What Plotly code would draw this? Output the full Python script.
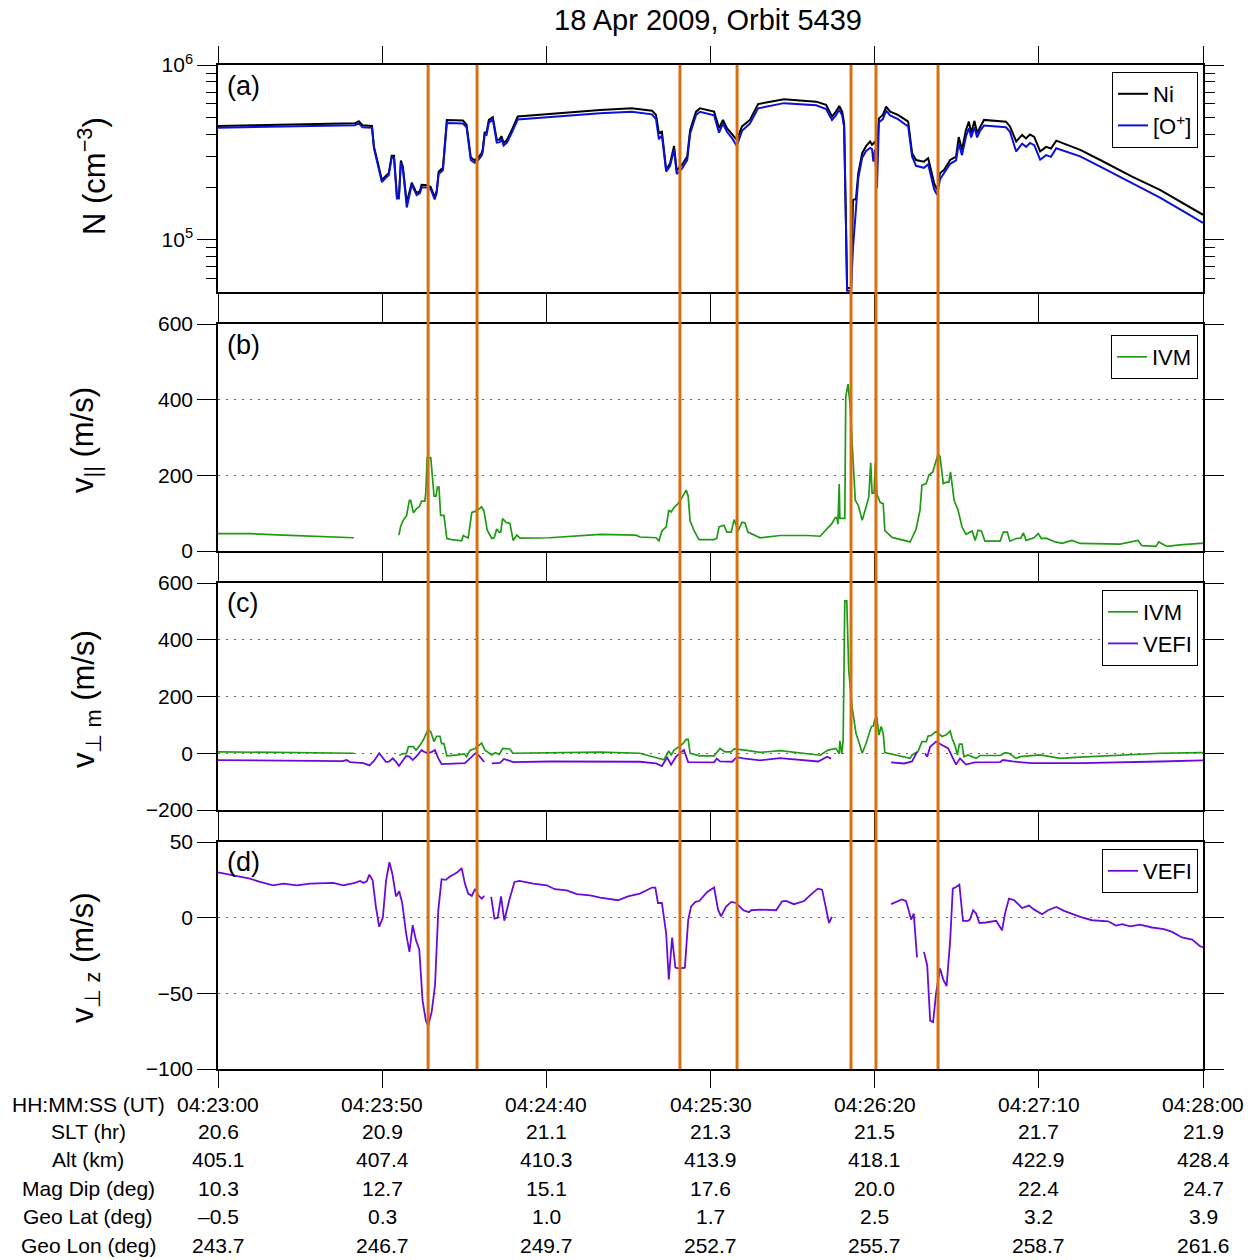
import plotly.graph_objects as go

# ---------------- data (t = seconds after 04:23:00 UT) ----------------
dens_t = [0, 20, 41.7, 42.9, 44, 46.9, 47.5, 48.7, 49.9, 51.4, 52, 52.9, 53.6, 54.5, 55.1, 55.7, 56.3,
          57.5, 59, 60.5, 61.5, 62, 63.9, 64.8, 66, 66.6, 67.2, 68.5, 69.7, 74.6, 75.7, 77, 78.2, 79.1,
          80.3, 80.6, 81.2, 81.8, 82.5, 83.7, 84.9, 85.8, 86.3, 87, 88, 89.5, 91.3, 116.4, 126, 132.2,
          133.4, 134.3, 135.2, 136.5, 137.7, 138.9, 139.7, 141.3, 142.9, 143.8, 145.6, 146.8, 151.1,
          152.6, 153.8, 155, 156.6, 158, 159.6, 162, 164.5, 172.4, 182.2, 185.2, 187, 188.2, 189.2,
          190.1, 190.7, 191.3, 191.6, 192.8, 193.4, 194.3, 195, 196.2, 197.4, 198.6, 199.2, 199.6,
          200.1, 200.7, 201.3, 202.5, 203.5, 204.7, 207.1, 210.2, 210.8, 211.4, 212.6, 215, 216.3,
          218.1, 219, 219.9, 221.1, 223, 224.8, 225.6, 226.6, 227.8, 228.7, 229.4, 230.4, 231.2,
          232.1, 233.3, 240, 241.2, 243.1, 244.9, 246.1, 247.3, 248.6, 250.4, 252.2, 253.7, 255.3,
          262.6, 268.7, 278.4, 286.9, 295.5, 299.1, 300]
ni = [448e3, 455e3, 464e3, 477e3, 452e3, 448e3, 341e3, 275e3, 220e3, 235e3, 240e3, 302e3, 302e3,
      177e3, 177e3, 284e3, 262e3, 163e3, 212e3, 185e3, 190e3, 206e3, 205e3, 200e3, 175e3, 190e3,
      245e3, 258e3, 485e3, 482e3, 455e3, 295e3, 285e3, 293e3, 313e3, 327e3, 410e3, 412e3, 485e3,
      503e3, 373e3, 375e3, 392e3, 357e3, 373e3, 425e3, 507e3, 553e3, 565e3, 548e3, 518e3, 408e3,
      415e3, 251e3, 274e3, 344e3, 250e3, 268e3, 299e3, 425e3, 541e3, 565e3, 541e3, 435e3, 485e3,
      435e3, 398e3, 373e3, 445e3, 485e3, 598e3, 637e3, 617e3, 591e3, 507e3, 541e3, 583e3, 541e3,
      464e3, 119e3, 53e3, 53e3, 169e3, 171e3, 240e3, 313e3, 344e3, 365e3, 350e3, 355e3, 365e3,
      330e3, 495e3, 518e3, 578e3, 541e3, 518e3, 474e3, 389e3, 313e3, 286e3, 280e3, 293e3, 211e3,
      193e3, 240e3, 251e3, 286e3, 299e3, 387e3, 327e3, 425e3, 474e3, 408e3, 479e3, 408e3, 440e3,
      485e3, 474e3, 445e3, 365e3, 398e3, 380e3, 400e3, 388e3, 320e3, 340e3, 333e3, 369e3, 327e3,
      286e3, 230e3, 193e3, 155e3, 141e3, 139e3]
o_plus = [438e3, 444e3, 452e3, 463e3, 440e3, 437e3, 333e3, 268e3, 214e3, 229e3, 234e3, 295e3, 295e3,
          172e3, 172e3, 277e3, 255e3, 153e3, 207e3, 180e3, 185e3, 199e3, 199e3, 194e3, 170e3, 185e3,
          238e3, 250e3, 466e3, 462e3, 440e3, 285e3, 276e3, 283e3, 303e3, 316e3, 396e3, 398e3, 468e3,
          488e3, 360e3, 362e3, 378e3, 346e3, 360e3, 410e3, 488e3, 530e3, 540e3, 522e3, 490e3, 376e3,
          395e3, 245e3, 265e3, 330e3, 238e3, 255e3, 285e3, 405e3, 518e3, 540e3, 515e3, 410e3, 462e3,
          415e3, 380e3, 344e3, 420e3, 462e3, 565e3, 605e3, 588e3, 560e3, 485e3, 515e3, 555e3, 515e3,
          440e3, 112e3, 51e3, 51e3, 90e3, 150e3, 225e3, 295e3, 322e3, 335e3, 330e3, 280e3, 330e3,
          197e3, 470e3, 490e3, 548e3, 515e3, 490e3, 445e3, 360e3, 300e3, 265e3, 258e3, 270e3, 195e3,
          181e3, 222e3, 240e3, 272e3, 285e3, 355e3, 305e3, 390e3, 435e3, 385e3, 440e3, 385e3, 420e3,
          450e3, 440e3, 415e3, 320e3, 355e3, 340e3, 358e3, 348e3, 287e3, 305e3, 298e3, 334e3, 300e3,
          262e3, 210e3, 174e3, 140e3, 127e3, 125e3]

vpar_t = [0, 9.7, 19.9, 30, 41.4, 48, 55.1, 55.6, 56.4, 57.4, 58.3, 58.7, 59.5, 60.5, 61.3, 62, 63, 63.3,
          63.7, 64.8, 65.8, 66.4, 66.8, 67.3, 67.8, 68.8, 69.7, 71.2, 74.2, 74.7, 75.5, 76.2, 77.3, 78.8,
          80.3, 81, 82, 83.4, 84.1, 84.9, 85.6, 86.1, 86.7, 87.7, 88.9, 89.9, 91, 92, 101, 116.4, 127.3,
          128.5, 133.4, 134.3, 135.2, 136.5, 137.3, 138, 138.9, 140.1, 141.3, 142.6, 143.2, 143.8, 145,
          146.5, 151.1, 151.9, 152.6, 154.1, 155, 156.3, 157.2, 158.4, 159.6, 160.5, 161.4, 165.1, 171.2,
          179.7, 183.4, 185.2, 187, 188, 188.5, 188.8, 189.2, 189.4, 190.1, 190.9, 191.2, 191.9, 192.5,
          193.4, 194.1, 195, 196.2, 197.4, 198.2, 198.8, 199.2, 199.8, 200.2, 200.7, 201.7, 202.6, 203.1,
          205.3, 207.7, 210.8, 211.4, 212.6, 213.8, 214.4, 215.7, 216.5, 217.7, 218.4, 219.3, 219.9,
          220.9, 221.8, 222.6, 223.1, 223.6, 224.2, 225.4, 226.6, 227.8, 229.7, 230.6, 231.5, 232.5,
          233.6, 238.2, 239.2, 240.4, 241.2, 243.1, 244.5, 245.3, 246.1, 248.5, 249.8, 250.8, 252.2, 255,
          257.1, 258.5, 260.1, 262.6, 274.7, 280.2, 281.4, 285.7, 286.5, 289, 293, 299.1, 300]
vpar_ivm = [46, 46, 42, 39, 35, None, 42, 64, 81, 93, 134, 134, 101, 112, 117, 132, 132, 156, 247, 247,
            145, 145, 169, 169, 94, 94, 33, 30, 27, 41, 37, 35, 102, 106, 117, 106, 55, 33, 35, 58, 50,
            50, 86, 76, 73, 28, 42, 34, 35, 44, 42, 37, 35, 27, 53, 64, 108, 103, 115, 125, 141, 161,
            145, 79, 54, 30, 30, 33, 64, 68, 50, 50, 83, 53, 76, 74, 50, 35, 41, 41, 39, 55, 73, 88, 88,
            71, 177, 86, 86, 86, 408, 441, 387, 222, 134, 121, 81, 117, 143, 233, 153, 153, 233, 150,
            128, 125, 54, 36, 30, 24, 35, 57, 108, 174, 178, 200, 209, 231, 256, 250, 178, 182, 182,
            209, 178, 134, 108, 64, 44, 53, 28, 55, 53, 26, 26, 50, 50, 26, 33, 34, 48, 28, 35, 46, 33,
            34, 24, 20, 24, 28, 20, 18, 28, 14, 12, 24, 12, 16, 20, 20]

vm_ivm_t = [0, 20, 41.4, 48, 55.2, 56.4, 57.4, 58, 59.5, 60.3, 61.3, 62.5, 64, 64.8, 65.8, 66.6, 67.6,
            68.1, 68.8, 69.7, 73.2, 75, 75.7, 76.8, 78.3, 79.3, 80.3, 81.3, 83.4, 84.4, 85.7, 86.7, 88.9,
            89.8, 116.4, 128.5, 134.6, 135.8, 137.3, 138, 138.9, 140.1, 141.3, 142.6, 143.2, 143.8,
            146.8, 151.1, 152.9, 154.4, 156.3, 157.2, 159, 160.5, 165.1, 171.2, 183.4, 185.8, 188.2,
            189.2, 189.4, 190, 190.4, 190.9, 191.5, 192.1, 193.1, 194.3, 195.3, 196.2, 197.4, 199,
            199.6, 200, 200.7, 201.3, 202, 202.6, 203.1, 206.5, 210.8, 211.4, 213.2, 214.4, 215.7,
            216.3, 217.1, 218.7, 219.3, 220.5, 221.8, 223, 223.6, 224.5, 225.2, 225.8, 226.6, 227.2,
            228.4, 230.9, 232.1, 238.2, 239.7, 240.9, 243.1, 244.3, 250.4, 256.5, 262.6, 274.7, 286.9,
            299.1, 300]
vm_ivm = [5, 3, 0, None, -7, -1, -1, 23, 23, 11, 25, 46, 84, 76, 41, 60, 60, 34, 34, -9, -6, -2, -12,
          11, 17, 28, 36, 11, -6, 2, -4, 17, 15, 0, 4, 0, -18, -23, 8, -6, 11, 21, 30, 49, 49, 0, -9,
          -9, 17, 5, 5, 15, 14, 11, 3, 9, -7, 11, 17, -2, 44, -2, 46, 537, 537, 293, 164, 70, 35, 0,
          35, 94, 96, 117, 123, 64, 94, 70, 2, -8, -18, -6, 6, 41, 41, 61, 62, 76, 70, 59, 65, 78, 52,
          26, -6, 32, 32, -12, -6, -18, -8, -8, 2, 0, -18, -12, -6, -18, -14, -7, 0, 2, 2]

vm_vefi_t = [0, 25, 37.9, 39.2, 40.2, 44.3, 46.1, 47.5, 49.1, 51.2, 52.2, 53.2, 54.2, 55.1, 57.3, 58.3,
             59.3, 60.5, 62, 62.8, 64, 65.1, 66.1, 67.1, 68.1, 75.2, 76.8, 78.6, 79.6, 81.1, 82.2, 83.4,
             85.9, 87.1, 88.3, 89.9, 101, 116.4, 128.5, 133.4, 135.2, 136.8, 138, 139.5, 141.9, 143.2,
             151.1, 151.9, 152.9, 156.6, 158, 160, 165.1, 171.2, 177.3, 182.8, 185.5, 186.7, 196, 205,
             209, 211.4, 212.9, 214, 215.3, 216, 216.9, 218.7, 220.5, 222.4, 223.6, 224.8, 226, 227.8,
             230.5, 238.2, 239.1, 242, 247.9, 262.6, 286.9, 299.1, 300]
vm_vefi = [-24, -28, -28, -24, -31, -35, -43, -27, 0, -31, -29, -18, -29, -45, -10, -12, -24, -10, 11,
           5, 0, 5, 11, -18, -38, -35, -18, 2, -10, -31, None, -36, -34, -20, -24, -31, -29, -29, -30,
           -36, -45, -15, -40, -12, 11, -31, -32, -19, -29, -30, -14, -18, -25, -17, -22, -29, -12,
           -19, None, -32, -36, -29, 5, None, 0, -12, 23, 41, 29, 17, -12, -40, -18, -40, -32, -31,
           -24, -29, -35, -35, -29, -25, -25]

vz_t = [0, 6.7, 9.7, 12.8, 16.8, 19.9, 24, 28, 35.1, 38.2, 41.7, 43.3, 44.3, 45.3, 46.1, 47.1, 48.1,
        49.1, 50.2, 51.2, 52.2, 53.1, 54.2, 55.2, 56.1, 57.3, 58.3, 59.3, 60.3, 61.3, 62.3, 63.3, 64,
        65.1, 66.1, 67.1, 68.1, 69.4, 70.5, 71.9, 72.9, 74.2, 75.2, 76.2, 77.3, 78.3, 79.3, 80.3, 81.1,
        82.2, 83.2, 84.2, 85.2, 86.2, 87.2, 88.7, 90.3, 91.8, 96, 100.1, 102.6, 106.2, 109.3, 113.3,
        116.4, 121.8, 124.9, 128.5, 132.2, 133.2, 134, 135.2, 136.5, 137.3, 138.3, 139.3, 140.5,
        142.2, 143.2, 144.1, 145.4, 146.6, 149, 151.1, 152.3, 153.2, 154.7, 156.3, 157.8, 160, 161.7,
        162.4, 165.1, 170, 171.8, 173, 175.4, 178.5, 180.9, 182.7, 184, 185.2, 186.1, 187, 196, 205,
        206.5, 208.3, 209.5, 210.1, 211.1, 211.9, 212.9, 214, 215, 216, 216.9, 217.8, 218.7, 219.9,
        220.9, 221.9, 223, 223.8, 224.8, 225.8, 226.9, 228.4, 229, 230, 230.9, 231.9, 233.9, 237,
        238.8, 239.7, 240.9, 242.5, 244.9, 247, 248.6, 251, 252.8, 255.3, 257.7, 262.6, 266.2, 271.1,
        273.5, 275.4, 277.8, 280.8, 284.5, 288.1, 290.6, 293.6, 296.7, 299.1, 300]
vz_vefi = [30, 27, 25.8, 23.6, 21.4, 22.5, 21.4, 22.5, 23, 21.4, 23, 24.3, 23, 24, 28.4, 24.7, 7, -6, 0,
           24.7, 36.6, 29, 14, 17.4, 9.7, -10.5, -22.6, -5, -15, -21, -54.5, -68, -71.7, -62, -44.6, 5,
           25.4, 25, 27, 28.7, 30, 32.8, 22.5, 15.9, 14.4, 19, 14.8, 12.6, 14.4, None, 13.7, -0.6, 0,
           14, -2, 11.5, 23.6, 24.3, 22.5, 21.4, 18.8, 18, 15.5, 14.8, 13.3, 11.5, 14.1, 15.9, 19.9,
           19.9, 9.7, 9.7, -10.5, -40.9, -13.1, -33, -33.6, -33, -1.7, 7.5, 10.4, 11, 17, 19.9, 5.3,
           0.9, 7.1, 10.4, 9.7, 4.9, 3.6, 4.9, 5.3, 4.9, 10.8, 11, 8.9, 11, 15.9, 19.2, 18.5, 4.9,
           -3.5, 0.5, None, 8.9, 10.4, 12, 11, 7.1, -1.3, 2.7, -26.3, None, -22.6, -31.4, -68, -69,
           -50, -33.6, -40.9, -45.3, -15, 19.2, 20.3, 21.8, -2.1, -2.1, -1.3, 4.9, 2.7, -3.5, -3.2,
           -2.1, -8.3, 2.7, 12.6, 11.5, 6.4, 8, 5.3, 2.3, 4.9, 7.1, 4.5, 0.5, -1.7, -2.4, -5.2, -4.3,
           -5.7, -4.6, -6.5, -7.6, -9.4, -13.1, -14.5, -18.9, -19.5]

event_t = [64.0, 78.9, 140.7, 158.1, 192.8, 200.4, 219.3]

tick_t = [0, 50, 100, 150, 200, 250, 300]
row_labels = ["HH:MM:SS (UT)", "SLT (hr)", "Alt (km)", "Mag Dip (deg)", "Geo Lat (deg)", "Geo Lon (deg)"]
row_ut = ["04:23:00", "04:23:50", "04:24:40", "04:25:30", "04:26:20", "04:27:10", "04:28:00"]
row_slt = ["20.6", "20.9", "21.1", "21.3", "21.5", "21.7", "21.9"]
row_alt = ["405.1", "407.4", "410.3", "413.9", "418.1", "422.9", "428.4"]
row_dip = ["10.3", "12.7", "15.1", "17.6", "20.0", "22.4", "24.7"]
row_lat = ["\u20130.5", "0.3", "1.0", "1.7", "2.5", "3.2", "3.9"]
row_lon = ["243.7", "246.7", "249.7", "252.7", "255.7", "258.7", "261.6"]

# ---------------- styling / layout geometry ----------------
FONT = "Liberation Sans, Arial, sans-serif"
W, H = 1257, 1260
L, R, T, B = 218, 1203, 65, 1069
panels_px = [(65, 292), (324, 551), (583, 810), (842, 1069)]

def py(ypix):
    return (B - ypix) / (B - T)

def px(xpix):
    return (xpix - L) / (R - L)

C_NI = "#000000"
C_OP = "#0b12d2"
C_IVM = "#1f9a14"
C_VEFI = "#6a0cd8"
C_EVT = "#d9700f"

fig = go.Figure()
fig.add_trace(go.Scatter(x=dens_t, y=ni, mode="lines", name="Ni", line=dict(color=C_NI, width=2),
                         xaxis="x", yaxis="y", legend="legend"))
fig.add_trace(go.Scatter(x=dens_t, y=o_plus, mode="lines", name="[O<sup>+</sup>]",
                         line=dict(color=C_OP, width=2), xaxis="x", yaxis="y", legend="legend"))
fig.add_trace(go.Scatter(x=vpar_t, y=vpar_ivm, mode="lines", name="IVM", line=dict(color=C_IVM, width=1.7),
                         xaxis="x2", yaxis="y2", legend="legend2"))
fig.add_trace(go.Scatter(x=vm_ivm_t, y=vm_ivm, mode="lines", name="IVM", line=dict(color=C_IVM, width=1.7),
                         xaxis="x3", yaxis="y3", legend="legend3"))
fig.add_trace(go.Scatter(x=vm_vefi_t, y=vm_vefi, mode="lines", name="VEFI", line=dict(color=C_VEFI, width=1.8),
                         xaxis="x3", yaxis="y3", legend="legend3"))
fig.add_trace(go.Scatter(x=vz_t, y=vz_vefi, mode="lines", name="VEFI", line=dict(color=C_VEFI, width=1.8),
                         xaxis="x4", yaxis="y4", legend="legend4"))

axis_common = dict(showline=True, linecolor="black", linewidth=1.5, mirror="allticks", ticks="outside",
                   tickcolor="black", tickwidth=1.2, zeroline=False,
                   tickfont=dict(family=FONT, size=21, color="black"))

layout_axes = {}
for i, (top, bot) in enumerate(panels_px):
    sfx = "" if i == 0 else str(i + 1)
    layout_axes["xaxis" + sfx] = dict(axis_common, domain=[0, 1], anchor="y" + sfx, range=[0, 300],
                                      tickvals=tick_t, showticklabels=False, ticklen=17, showgrid=False)
ydefs = [
    dict(type="log", range=[4.701, 6], tickvals=[1e5, 1e6], ticktext=["10<sup>5</sup>", "10<sup>6</sup>"],
         showgrid=False,
         minor=dict(tickvals=[6e4, 7e4, 8e4, 9e4, 2e5, 3e5, 4e5, 5e5, 6e5, 7e5, 8e5, 9e5],
                    ticks="outside", ticklen=10, tickcolor="black", showgrid=False)),
    dict(range=[0, 600], tickvals=[0, 200, 400, 600]),
    dict(range=[-200, 600], tickvals=[-200, 0, 200, 400, 600]),
    dict(range=[-100, 50], tickvals=[-100, -50, 0, 50]),
]
for i, (top, bot) in enumerate(panels_px):
    sfx = "" if i == 0 else str(i + 1)
    yd = dict(axis_common, domain=[py(bot), py(top)], anchor="x" + sfx, ticklen=19)
    if i > 0:
        yd.update(showgrid=True, gridcolor="#666666", gridwidth=1, griddash="1.5px,6.5px")
    yd.update(ydefs[i])
    layout_axes["yaxis" + sfx] = yd

shapes = []
for t in event_t:
    shapes.append(dict(type="line", xref="x4", yref="paper", x0=t, x1=t, y0=0, y1=1,
                       line=dict(color=C_EVT, width=3), layer="above"))

ann = []
ann.append(dict(text="18 Apr 2009, Orbit 5439", xref="paper", yref="paper", x=px(708), y=py(20),
                showarrow=False, font=dict(family=FONT, size=29, color="black"),
                xanchor="center", yanchor="middle"))
ytitles = [("N (cm<sup>\u22123</sup>)", 92, 176),
           ("v<sub>||</sub> (m/s)", 85, 440),
           ("v<sub>\u22a5 m</sub> (m/s)", 86, 699),
           ("v<sub>\u22a5 z</sub> (m/s)", 85, 958)]
for txt, xx, yy in ytitles:
    ann.append(dict(text=txt, xref="paper", yref="paper", x=px(xx), y=py(yy), textangle=-90,
                    showarrow=False, font=dict(family=FONT, size=31, color="black"),
                    xanchor="center", yanchor="middle"))
for lab, yy in zip(["(a)", "(b)", "(c)", "(d)"], [86, 345, 603, 862]):
    ann.append(dict(text=lab, xref="paper", yref="paper", x=px(225), y=py(yy), showarrow=False,
                    font=dict(family=FONT, size=27, color="black"), xanchor="left", yanchor="middle"))

rows = [row_ut, row_slt, row_alt, row_dip, row_lat, row_lon]
row_y = [1104, 1131, 1159, 1188, 1216, 1245]
for lab, vals, yy in zip(row_labels, rows, row_y):
    ann.append(dict(text=lab, xref="paper", yref="paper", x=px(88), y=py(yy), showarrow=False,
                    font=dict(family=FONT, size=21, color="black"), xanchor="center", yanchor="middle"))
    for t, v in zip(tick_t, vals):
        ann.append(dict(text=v, xref="x4", yref="paper", x=t, y=py(yy), showarrow=False,
                        font=dict(family=FONT, size=21, color="black"), xanchor="center", yanchor="middle"))

legend_common = dict(xref="paper", yref="paper", x=px(1198), xanchor="right", yanchor="top",
                     bgcolor="white", bordercolor="black", borderwidth=1,
                     font=dict(family=FONT, size=22, color="black"), tracegroupgap=0)

fig.update_layout(
    width=W, height=H, autosize=False,
    margin=dict(l=L, r=W - R, t=T, b=H - B, pad=0),
    paper_bgcolor="white", plot_bgcolor="white",
    font=dict(family=FONT, size=21, color="black"),
    showlegend=True,
    legend=dict(legend_common, y=py(72)),
    legend2=dict(legend_common, y=py(335)),
    legend3=dict(legend_common, y=py(590)),
    legend4=dict(legend_common, y=py(849)),
    shapes=shapes, annotations=ann,
    **layout_axes,
)

fig.write_html("out.html")
